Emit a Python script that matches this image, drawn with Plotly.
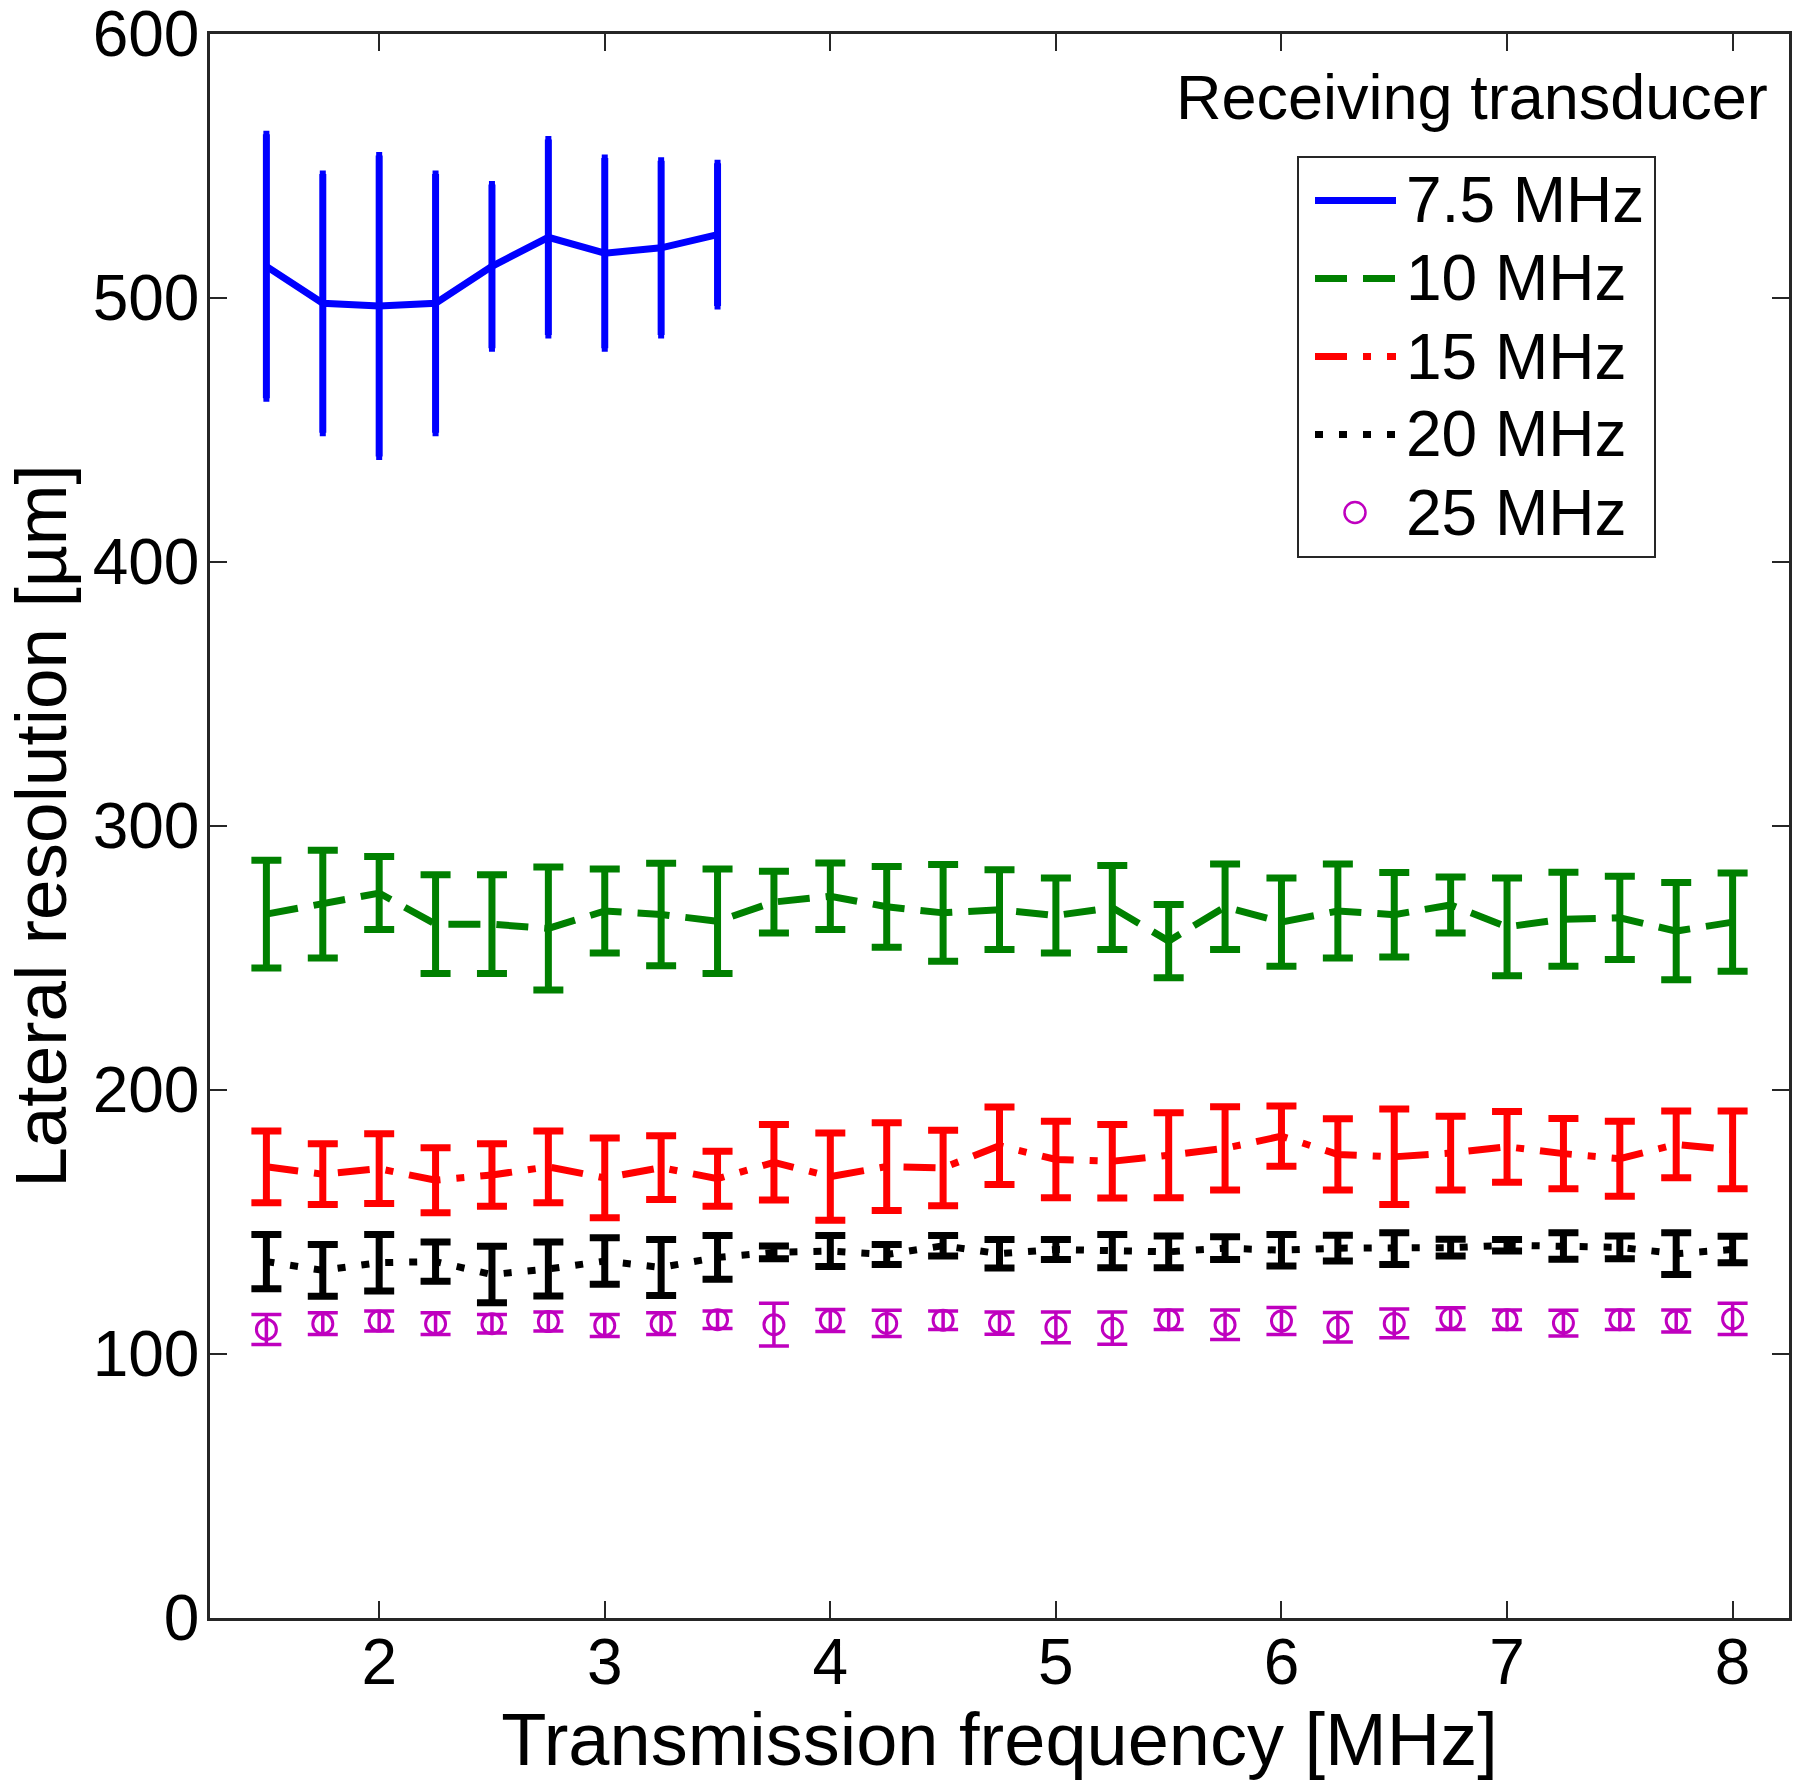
import plotly.graph_objects as go

# Transmission frequencies [MHz]
x_blue = [1.5, 1.75, 2.0, 2.25, 2.5, 2.75, 3.0, 3.25, 3.5]
x_all = [1.5, 1.75, 2.0, 2.25, 2.5, 2.75, 3.0, 3.25, 3.5, 3.75, 4.0, 4.25, 4.5,
         4.75, 5.0, 5.25, 5.5, 5.75, 6.0, 6.25, 6.5, 6.75, 7.0, 7.25, 7.5, 7.75, 8.0]

# Receiving transducer 7.5 MHz
y_75 = [512, 498, 497, 498, 512, 523, 517, 519, 524]
e_75 = [50, 49, 57, 49, 31, 37, 36, 33, 27]

# 10 MHz
y_10 = [266.6, 270.4, 274.6, 262.8, 262.8, 261.2, 267.8, 266.5, 263.9, 271.2, 273.4, 269.4, 267.1,
        268.3, 266.1, 269.1, 256.4, 269.4, 263.6, 267.8, 266.4, 270.1, 261.8, 264.7, 265.2, 260.2, 263.6]
e_10 = [20.4, 20.4, 13.8, 18.7, 18.7, 23.3, 15.9, 19.4, 19.8, 11.7, 12.6, 15.3, 18.3,
        15.1, 14.2, 15.9, 13.9, 16.2, 16.7, 17.8, 16.0, 10.6, 18.5, 17.8, 15.8, 18.4, 18.6]

# 15 MHz
y_15 = [170.9, 168.1, 170.2, 165.8, 167.8, 170.9, 166.7, 170.6, 166.4, 172.6, 167.2, 171.0, 170.5,
        178.9, 173.7, 173.0, 175.3, 177.9, 182.5, 175.6, 174.7, 176.1, 178.5, 175.9, 174.0, 179.4, 177.3]
e_15 = [13.6, 11.5, 13.2, 12.3, 11.8, 13.6, 15.1, 12.1, 10.4, 14.3, 16.5, 16.6, 14.3,
        14.7, 14.5, 13.9, 16.1, 15.8, 11.4, 13.5, 18.1, 14.0, 13.4, 13.3, 14.2, 12.6, 14.7]

# 20 MHz
y_20 = [135.0, 131.7, 134.6, 135.0, 130.1, 132.2, 135.2, 132.8, 136.6, 138.5, 139.0, 137.7, 141.0,
        138.0, 139.6, 139.0, 138.7, 140.1, 139.3, 140.1, 139.9, 140.3, 141.2, 140.9, 140.4, 138.0, 139.6]
e_20 = [10.3, 9.8, 10.7, 7.4, 10.7, 10.2, 8.8, 10.6, 8.3, 2.4, 5.9, 3.8, 3.9,
        5.4, 3.8, 6.3, 6.0, 4.3, 6.0, 4.9, 6.0, 3.2, 2.2, 5.0, 4.3, 7.9, 5.0]

# 25 MHz
y_25 = [109.3, 111.5, 112.5, 111.5, 111.5, 112.3, 110.8, 111.5, 113.0, 111.1, 112.7, 111.6, 112.8,
        111.7, 110.1, 109.8, 113.0, 111.1, 112.5, 110.1, 111.6, 113.4, 113.0, 111.7, 113.0, 112.5, 113.3]
e_25 = [5.7, 4.1, 3.8, 4.1, 3.5, 3.6, 4.2, 4.1, 3.3, 8.1, 4.2, 5.0, 3.5,
        4.2, 5.8, 6.1, 3.7, 5.6, 5.1, 5.6, 5.4, 4.1, 3.7, 4.9, 3.7, 4.2, 5.9]

series_names = ["7.5 MHz", "10 MHz", "15 MHz", "20 MHz", "25 MHz"]
legend_title = "Receiving transducer"
x_ticks = [2, 3, 4, 5, 6, 7, 8]
y_ticks = [0, 100, 200, 300, 400, 500, 600]

FONT = "Liberation Sans, Arial, sans-serif"
AXC = "#262626"
BLUE = "#0000ff"
GREEN = "#008000"
RED = "#ff0000"
BLACK = "#000000"
MAGENTA = "#bf00bf"
colors = [BLUE, GREEN, RED, BLACK, MAGENTA]
dashes = ["solid", "32px,16px", "32px,16px,8px,16px", "8px,16px", None]

LW = 7
fig = go.Figure()
fig.add_trace(go.Scatter(
    x=x_blue, y=y_75, mode="lines", name=series_names[0],
    line=dict(color=BLUE, width=LW),
    error_y=dict(type="data", array=e_75, color=BLUE, thickness=LW, width=3)))
fig.add_trace(go.Scatter(
    x=x_all, y=y_10, mode="lines", name=series_names[1],
    line=dict(color=GREEN, width=LW, dash=dashes[1]),
    error_y=dict(type="data", array=e_10, color=GREEN, thickness=LW, width=15)))
fig.add_trace(go.Scatter(
    x=x_all, y=y_15, mode="lines", name=series_names[2],
    line=dict(color=RED, width=LW, dash=dashes[2]),
    error_y=dict(type="data", array=e_15, color=RED, thickness=LW, width=15)))
fig.add_trace(go.Scatter(
    x=x_all, y=y_20, mode="lines", name=series_names[3],
    line=dict(color=BLACK, width=LW, dash=dashes[3]),
    error_y=dict(type="data", array=e_20, color=BLACK, thickness=LW, width=15)))
fig.add_trace(go.Scatter(
    x=x_all, y=y_25, mode="markers", name=series_names[4],
    marker=dict(symbol="circle-open", size=20, color=MAGENTA, line=dict(width=3, color=MAGENTA)),
    error_y=dict(type="data", array=e_25, color=MAGENTA, thickness=3.5, width=15)))

# ---- layout geometry (pixels) ----
W, H = 1800, 1781
ML, MR, MT, MB = 210, 11, 34, 163
PX0, PX1 = ML, W - MR
PY0, PY1 = MT, H - MB


def px_x(X):
    return (X - PX0) / (PX1 - PX0)


def px_y(Y):
    return (PY1 - Y) / (PY1 - PY0)


# ---- hand-drawn legend (box, samples, labels) ----
shapes = []
annotations = []
box_l, box_r, box_t, box_b = 1298, 1655, 157, 557
shapes.append(dict(type="rect", xref="paper", yref="paper",
                   x0=px_x(box_l), x1=px_x(box_r), y0=px_y(box_b), y1=px_y(box_t),
                   line=dict(color=AXC, width=2), fillcolor="white", layer="above"))
row0, row_step = 200.5, 78
for i, name in enumerate(series_names):
    yc = row0 + i * row_step
    if dashes[i] is not None:
        shapes.append(dict(type="line", xref="paper", yref="paper",
                           x0=px_x(1315), x1=px_x(1396), y0=px_y(yc), y1=px_y(yc),
                           line=dict(color=colors[i], width=LW, dash=dashes[i]), layer="above"))
    else:
        r = 10.5
        shapes.append(dict(type="circle", xref="paper", yref="paper",
                           x0=px_x(1355 - r), x1=px_x(1355 + r), y0=px_y(yc + r), y1=px_y(yc - r),
                           line=dict(color=colors[i], width=2.5), layer="above"))
    annotations.append(dict(text=name, xref="paper", yref="paper",
                            x=px_x(1404), y=px_y(yc), xanchor="left", yanchor="middle",
                            showarrow=False, font=dict(family=FONT, size=64, color="black")))

annotations.append(dict(text=legend_title, xref="paper", yref="paper",
                        x=px_x(1770), y=px_y(97), xanchor="right", yanchor="middle",
                        showarrow=False, font=dict(family=FONT, size=63, color="black")))

fig.update_layout(
    width=W, height=H,
    margin=dict(l=ML, r=MR, t=MT, b=MB, autoexpand=False),
    paper_bgcolor="white", plot_bgcolor="white",
    font=dict(family=FONT, size=64, color="black"),
    showlegend=False,
    shapes=shapes,
    annotations=annotations,
)

fig.update_xaxes(
    range=[1.25, 8.25], tickvals=x_ticks, ticktext=[str(v) for v in x_ticks],
    ticks="inside", ticklen=17, tickwidth=2, tickcolor=AXC,
    showline=True, linecolor=AXC, linewidth=2.5, mirror="ticks",
    showgrid=False, zeroline=False, automargin=False,
    tickfont=dict(family=FONT, size=64, color="black"),
    ticklabelstandoff=-14,
    title=dict(text="Transmission frequency [MHz]", font=dict(family=FONT, size=74), standoff=8),
)
fig.update_yaxes(
    range=[0, 600], tickvals=y_ticks, ticktext=[str(v) for v in y_ticks],
    ticks="inside", ticklen=17, tickwidth=2, tickcolor=AXC,
    showline=True, linecolor=AXC, linewidth=2.5, mirror="ticks",
    showgrid=False, zeroline=False, automargin=False,
    tickfont=dict(family=FONT, size=64, color="black"),
    ticklabelstandoff=-5, ticklabeloverflow="allow",
    title=dict(text="Lateral resolution [µm]", font=dict(family=FONT, size=73), standoff=13),
)

fig.write_html("out.html", config={"displayModeBar": False},
               post_script="document.body.style.margin='0';")
